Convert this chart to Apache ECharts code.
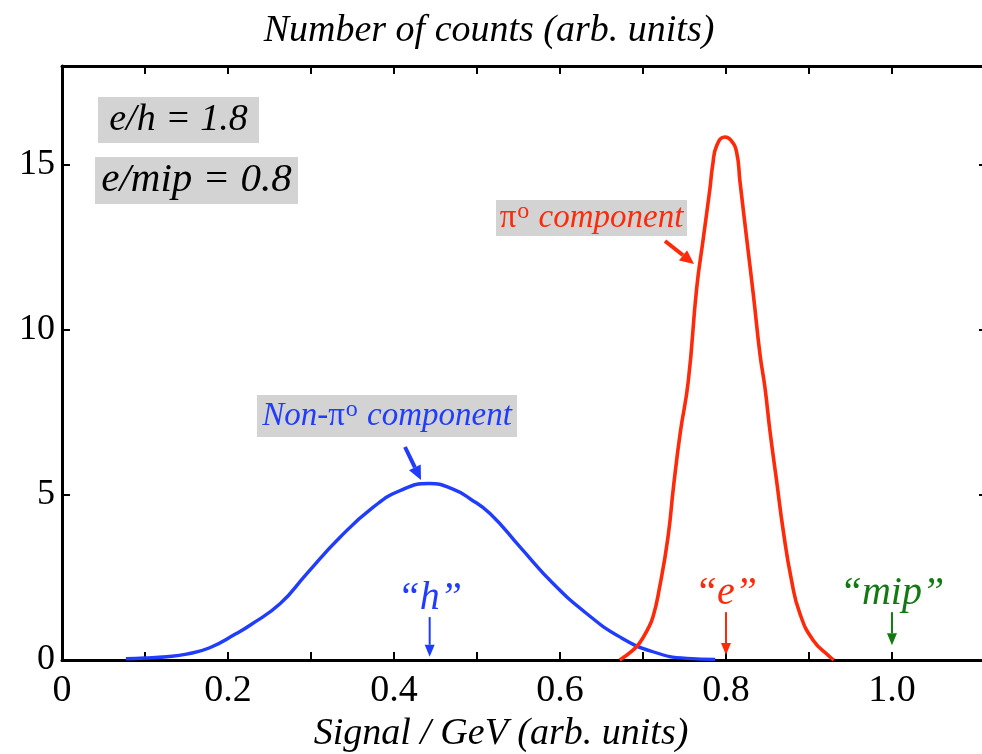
<!DOCTYPE html>
<html>
<head>
<meta charset="utf-8">
<script src="https://cdn.jsdelivr.net/npm/echarts@6/dist/echarts.min.js"></script>
<style>
html,body{margin:0;padding:0;background:#fff;overflow:hidden;}
#chart{width:982px;height:754px;overflow:hidden;}
</style>
</head>
<body>
<div id="chart"></div>
<script>
// ---- data ----
const blueX = [0.077, 0.100, 0.126, 0.150, 0.178, 0.210, 0.227, 0.263, 0.295, 0.335, 0.375, 0.407, 0.443, 0.471, 0.492, 0.516, 0.552, 0.592, 0.632, 0.672, 0.712, 0.753, 0.787];
const blueY = [0.04, 0.06, 0.10, 0.18, 0.37, 0.80, 1.06, 1.71, 2.62, 3.72, 4.63, 5.13, 5.35, 5.18, 4.88, 4.43, 3.42, 2.31, 1.41, 0.70, 0.25, 0.05, 0.02];

const redX = [0.672, 0.688, 0.696, 0.705, 0.712, 0.720, 0.730, 0.737, 0.745, 0.7546, 0.7647, 0.7727, 0.7807, 0.784, 0.789, 0.7988, 0.806, 0.8128, 0.8169, 0.8249, 0.833, 0.841, 0.847, 0.853, 0.861, 0.869, 0.879, 0.889, 0.905, 0.925, 0.930];
const redY = [0.00, 0.30, 0.52, 0.90, 1.30, 2.20, 3.70, 5.30, 6.90, 8.45, 11.27, 12.78, 14.29, 15.00, 15.60, 15.85, 15.75, 15.39, 14.49, 12.78, 11.07, 9.26, 8.25, 6.94, 5.43, 3.92, 2.41, 1.41, 0.60, 0.10, 0.00];

const xTickLabels = [0, 0.2, 0.4, 0.6, 0.8, 1.0];
const xTicks = [0.1, 0.2, 0.3, 0.4, 0.5, 0.6, 0.7, 0.8, 0.9, 1.0];
const yTickLabels = [0, 5, 10, 15];

const markerLabels = ['“h”', '“e”', '“mip”'];
const markerX = [0.443, 0.8, 1.0];
const markerTop = [1.30, 1.45, 1.45];
const markerTip = [0.10, 0.15, 0.45];
const markerColors = ['#1f3cff', '#ff2a0a', '#137a13'];

const BLUE = '#1f3cff';
const RED = '#ff2a0a';
const SERIF = '"Liberation Serif", "DejaVu Serif", serif';

const chart = echarts.init(document.getElementById('chart'));

const zip = (xs, ys) => xs.map((x, i) => [x, ys[i]]);

const axisLineStyle = { color: '#000', width: 3 };

function frameAxis(extra) {
  return Object.assign({
    type: 'value',
    splitLine: { show: false },
    axisLine: { show: true, onZero: false, lineStyle: axisLineStyle }
  }, extra);
}

const option = {
  animation: false,
  backgroundColor: '#fff',
  grid: { left: 62, width: 925, top: 66, bottom: 94, containLabel: false, outerBoundsMode: 'none' },
  xAxis: [
    frameAxis({
      min: 0, max: 1.1145, position: 'bottom',
      axisTick: { show: true, inside: true, length: 8, customValues: xTicks, lineStyle: { color: '#000', width: 2 } },
      axisLabel: {
        show: true, customValues: xTickLabels, margin: 12,
        fontFamily: SERIF, fontSize: 38, color: '#000',
        formatter: v => (v === 0 ? '0' : v.toFixed(1))
      }
    }),
    frameAxis({
      min: 0, max: 1.1145, position: 'top',
      axisTick: { show: true, inside: true, length: 8, customValues: xTicks, lineStyle: { color: '#000', width: 2 } },
      axisLabel: { show: false }
    })
  ],
  yAxis: [
    frameAxis({
      min: 0, max: 18, position: 'left',
      axisTick: { show: true, inside: true, length: 8, customValues: yTickLabels, lineStyle: { color: '#000', width: 2 } },
      axisLabel: {
        show: true, customValues: yTickLabels, margin: 7,
        fontFamily: SERIF, fontSize: 36, color: '#000'
      }
    }),
    frameAxis({
      min: 0, max: 18, position: 'right',
      axisTick: { show: true, inside: true, length: 8, customValues: yTickLabels, lineStyle: { color: '#000', width: 2 } },
      axisLabel: { show: false }
    })
  ],
  series: [
    {
      name: 'Non-π0 component', type: 'line', xAxisIndex: 0, yAxisIndex: 0,
      data: zip(blueX, blueY), showSymbol: false, symbol: 'none',
      smooth: 0.5,
      lineStyle: { color: BLUE, width: 3.4 }, z: 3
    },
    {
      name: 'π0 component', type: 'line', xAxisIndex: 0, yAxisIndex: 0,
      data: zip(redX, redY), showSymbol: false, symbol: 'none',
      smooth: 0.5,
      lineStyle: { color: RED, width: 3.6 }, z: 4
    }
  ]
};

chart.setOption(option);

function arrow(x1, y1, x2, y2, color, w, headLen, headW) {
  const dx = x2 - x1, dy = y2 - y1;
  const L = Math.sqrt(dx * dx + dy * dy);
  const ux = dx / L, uy = dy / L;
  const bx = x2 - ux * headLen, by = y2 - uy * headLen;
  const px = -uy * headW / 2, py = ux * headW / 2;
  return [
    { type: 'line', shape: { x1: x1, y1: y1, x2: bx, y2: by }, style: { stroke: color, lineWidth: w }, z: 10 },
    { type: 'polygon', shape: { points: [[x2, y2], [bx + px, by + py], [bx - px, by - py]] }, style: { fill: color }, z: 10 }
  ];
}

function boxText(x, y, w, h, text, color, size, rich) {
  const els = [
    { type: 'rect', shape: { x: x, y: y, width: w, height: h }, style: { fill: '#d3d3d3' }, z: 8 }
  ];
  const st = {
    x: x + w / 2, y: y + h / 2, text: text, fill: color,
    font: 'italic ' + size + 'px ' + SERIF,
    align: 'center', verticalAlign: 'middle'
  };
  if (rich) st.rich = rich;
  els.push({ type: 'text', style: st, z: 9 });
  return els;
}

const g = [];
// axis titles
g.push({ type: 'text', style: { x: 489, y: 31, text: 'Number of counts (arb. units)', fill: '#000', font: 'italic 38px ' + SERIF, align: 'center', verticalAlign: 'middle' }, z: 10 });
g.push({ type: 'text', style: { x: 501, y: 734, text: 'Signal / GeV (arb. units)', fill: '#000', font: 'italic 38px ' + SERIF, align: 'center', verticalAlign: 'middle' }, z: 10 });

// ratio boxes
g.push(...boxText(98, 97, 161, 46, 'e/h = 1.8', '#000', 38));
g.push(...boxText(95, 157, 203, 47, 'e/mip = 0.8', '#000', 41));

// component labels
const piRich = (color, size) => ({
  pi: { fontFamily: SERIF, fontSize: size, fontStyle: 'normal', fill: color, color: color },
  sup: { fontFamily: SERIF, fontSize: Math.round(size * 0.72), fontStyle: 'normal', fill: color, color: color, verticalAlign: 'top', padding: [0, 1, 12, 1] },
  it: { fontFamily: SERIF, fontSize: size, fontStyle: 'italic', fill: color, color: color }
});
g.push(...boxText(496, 200, 191, 36, '{pi|π}{sup|o}{it| component}', RED, 33, piRich(RED, 33)));
g.push(...boxText(257, 395, 260, 42, '{it|Non-}{pi|π}{sup|o}{it| component}', BLUE, 33, piRich(BLUE, 33)));

// pointer arrows
g.push(...arrow(405, 447, 421, 480, BLUE, 4, 14, 13));
g.push(...arrow(665, 241, 694, 264, RED, 4, 14, 13));

// marker labels with arrows, positioned in data coordinates
for (let i = 0; i < markerLabels.length; i++) {
  const top = chart.convertToPixel({ xAxisIndex: 0, yAxisIndex: 0 }, [markerX[i], markerTop[i]]);
  const tip = chart.convertToPixel({ xAxisIndex: 0, yAxisIndex: 0 }, [markerX[i], markerTip[i]]);
  g.push(...arrow(top[0], top[1], tip[0], tip[1], markerColors[i], 2, 12, 10));
  g.push({ type: 'text', style: { x: top[0], y: top[1] - 19, text: markerLabels[i], fill: markerColors[i], font: 'italic 40px ' + SERIF, align: 'center', verticalAlign: 'middle' }, z: 10 });
}

chart.setOption({ graphic: g });
</script>
</body>
</html>
